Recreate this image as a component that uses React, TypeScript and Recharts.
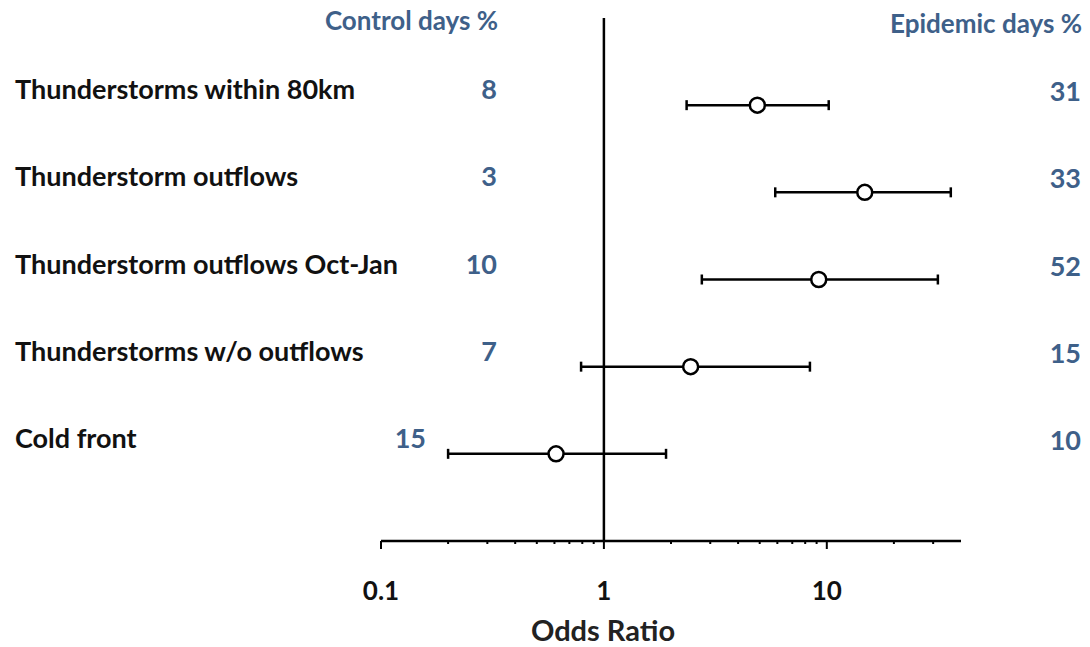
import { ComposedChart, Scatter, ErrorBar, XAxis, YAxis, ReferenceLine } from 'recharts'

// rows, top to bottom
const categories = [
  'Thunderstorms within 80km',
  'Thunderstorm outflows',
  'Thunderstorm outflows Oct-Jan',
  'Thunderstorms w/o outflows',
  'Cold front',
]
const oddsRatio = [4.88, 14.8, 9.2, 2.45, 0.61]
const ciLow = [2.35, 5.87, 2.75, 0.79, 0.2]
const ciHigh = [10.2, 36, 31.5, 8.4, 1.9]
const controlPct = [8, 3, 10, 7, 15]
const epidemicPct = [31, 33, 52, 15, 10]

const majorTicks = [0.1, 1, 10]
const minorTicks = [0.2, 0.3, 0.4, 0.5, 0.6, 0.7, 0.8, 0.9, 2, 3, 4, 5, 6, 7, 8, 9, 20, 30]

const FONT = 'Lato, sans-serif'
const BLUE = '#3e6089'

const data = categories.map((name, i) => ({
  name,
  row: i + 1,
  or: oddsRatio[i],
  ci: [oddsRatio[i] - ciLow[i], ciHigh[i] - oddsRatio[i]],
}))

function OddsTick(props: any) {
  const { x, y, payload } = props
  const major = majorTicks.includes(payload.value)
  return (
    <g>
      <line x1={x} x2={x} y1={y} y2={y + (major ? 8 : 3)} stroke="#000" strokeWidth={2} />
      {major && (
        <text x={x} y={y + 59} textAnchor="middle" fontFamily={FONT} fontWeight={700} fontSize={26} fill="#111">
          {payload.value}
        </text>
      )}
    </g>
  )
}

function RowTick(props: any) {
  const { y, payload } = props
  const i = payload.value - 1
  if (i < 0 || i >= categories.length) return null
  const last = i === categories.length - 1
  return (
    <g fontFamily={FONT} fontWeight={700} fontSize={27}>
      <text x={15} y={y - 6} fill="#111">{categories[i]}</text>
      <text x={last ? 426 : 497} y={y - 6} textAnchor="end" fill={BLUE}>{controlPct[i]}</text>
      <text x={1081} y={y - 4} textAnchor="end" fill={BLUE}>{epidemicPct[i]}</text>
    </g>
  )
}

function OpenCircle(props: any) {
  const { cx, cy } = props
  return <circle cx={cx} cy={cy} r={7.5} fill="#fff" stroke="#000" strokeWidth={2.5} />
}

export default function App() {
  return (
    <div style={{ position: 'absolute', left: 0, top: 0, background: '#fff' }}>
      <ComposedChart width={1090} height={647} data={data} margin={{ top: 18, right: 129, left: 380, bottom: 0 }}>
        <XAxis
          dataKey="or"
          type="number"
          scale="log"
          domain={[0.1, 40]}
          ticks={[...majorTicks, ...minorTicks].sort((a, b) => a - b)}
          interval={0}
          height={106}
          tickSize={0}
          tickMargin={0}
          tickLine={false}
          axisLine={{ stroke: '#000', strokeWidth: 2.5 }}
          tick={<OddsTick />}
          allowDataOverflow
        />
        <YAxis
          dataKey="row"
          type="number"
          domain={[0, 6]}
          reversed
          ticks={[1, 2, 3, 4, 5]}
          width={1}
          axisLine={false}
          tickLine={false}
          tick={<RowTick />}
        />
        <ReferenceLine x={1} stroke="#000" strokeWidth={2.5} />
        <Scatter dataKey="or" shape={<OpenCircle />} isAnimationActive={false}>
          <ErrorBar dataKey="ci" direction="x" width={5} stroke="#000" strokeWidth={2.5} />
        </Scatter>
        <text x={498} y={30} textAnchor="end" fontFamily={FONT} fontWeight={700} fontSize={26} fill={BLUE}>
          Control days %
        </text>
        <text x={1082} y={33} textAnchor="end" fontFamily={FONT} fontWeight={700} fontSize={26} fill={BLUE}>
          Epidemic days %
        </text>
        <text x={603} y={641} textAnchor="middle" fontFamily={FONT} fontWeight={700} fontSize={29} fill="#222">
          Odds Ratio
        </text>
      </ComposedChart>
    </div>
  )
}
